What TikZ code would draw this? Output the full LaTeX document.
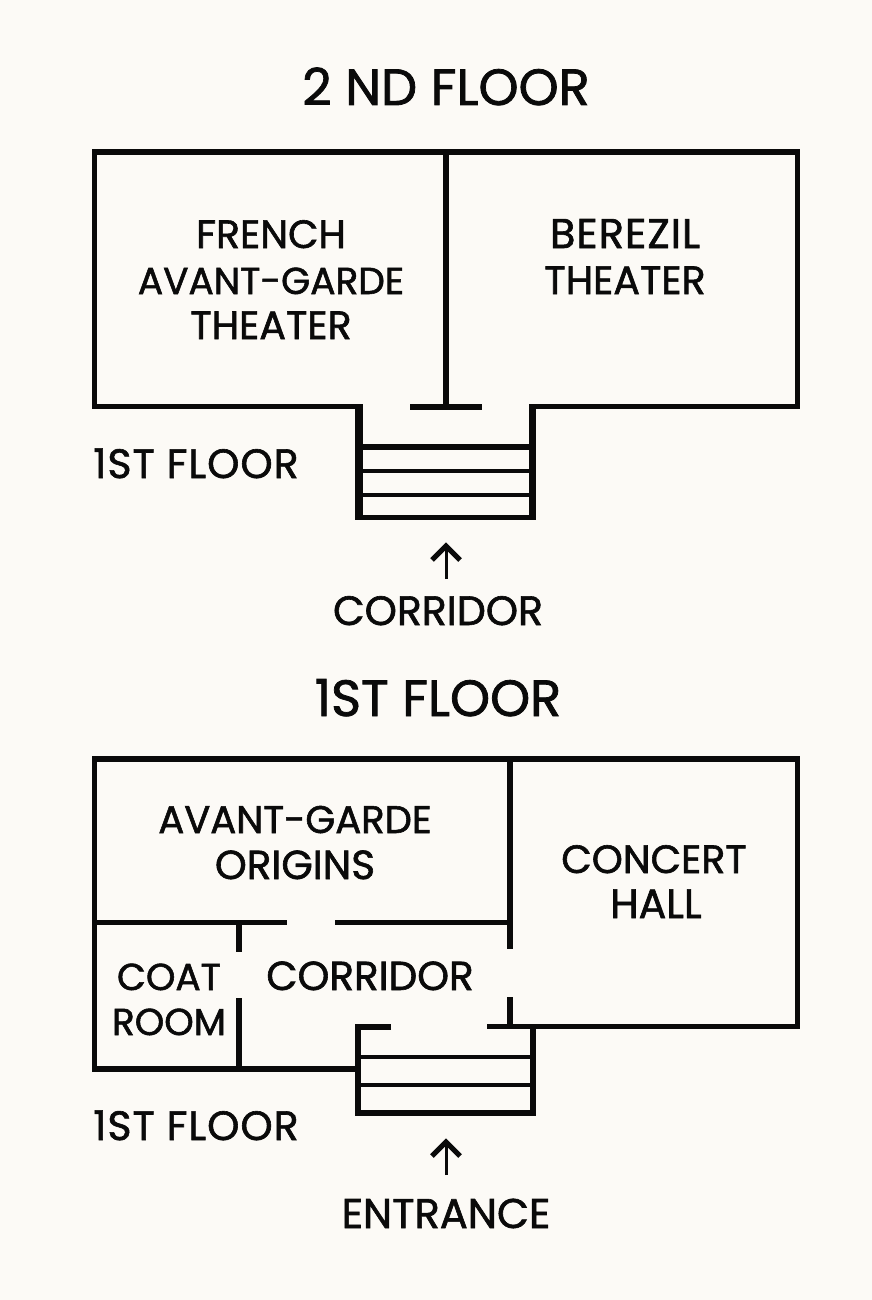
\documentclass[tikz,border=0pt]{standalone}
\usepackage{fontspec}
\newfontfamily\popm{Poppins}[RawFeature={embolden=1.5}]
\newfontfamily\popw{Poppins}[LetterSpace=2.5,RawFeature={embolden=1.5}]
\definecolor{paper}{HTML}{FCFAF6}
\definecolor{ink}{HTML}{0A0A0A}
\tikzset{
  wall/.style={draw=ink,line width=5.5pt,line cap=butt,line join=miter},
  thick wall/.style={draw=ink,line width=7.5pt},
  tread/.style={draw=ink,line width=4pt},
  stem/.style={draw=ink,line width=3pt},
  head/.style={draw=ink,line width=5pt,line cap=butt,line join=miter},
  title/.style={anchor=base,text=ink,font=\popm\fontsize{51}{51}\selectfont},
  label/.style={anchor=base,text=ink,align=center,font=\popm\fontsize{#1}{#1}\selectfont},
  wide label/.style={anchor=base,text=ink,align=center,font=\popw\fontsize{#1}{#1}\selectfont},
}
\begin{document}
\begin{tikzpicture}[x=1pt,y=-1pt]
\useasboundingbox[fill=paper] (0,0) rectangle (872,1300);
% 2nd floor
\node[title] (t2) at (446,105) {2 ND FLOOR};
\draw[wall] (358,406.5) -- (94.5,406.5) -- (94.5,152) -- (797.5,152) -- (797.5,406.5) -- (532,406.5);
\draw[wall] (446,152) -- (446,407);
\draw[wall] (410,407) -- (482,407);
\draw[thick wall] (359,404) -- (359,520);
\draw[thick wall] (532.5,404) -- (532.5,520);
\draw[wall] (355,517.5) -- (536,517.5);
\draw[wall] (359,447) -- (532,447);
\draw[tread] (359,471) -- (532,471);
\draw[tread] (359,495) -- (532,495);
\node[label=39.5] (french) at (271,248) {FRENCH};
\node[label=37.5] (avant) at (271,294) {AVANT-GARDE};
\node[label=39.5] (theater) at (271,339) {THEATER};
\node[wide label=41.5] (berezil) at (625,248) {BEREZIL};
\node[label=39.5] (bertheater) at (625,294) {THEATER};
\node[wide label=41] (f1a) at (196,478) {1ST FLOOR};
\node[label=41] (corr) at (438,625) {CORRIDOR};
\coordinate (a1t) at (446,546);
\coordinate (a1b) at (446,579);
\draw[stem] (a1b) -- (a1t);
\draw[head] (432,560) -- (446,546) -- (460,560);
% 1st floor
\node[title] (t1) at (438,716) {1ST FLOOR};
\draw[wall] (358,1069) -- (94.5,1069) -- (94.5,759) -- (797.5,759) -- (797.5,1026.5) -- (487,1026.5);
\draw[wall] (510,759) -- (510,949);
\draw[wall] (510,997) -- (510,1026);
\draw[wall] (94,922.5) -- (287,922.5);
\draw[wall] (335,922.5) -- (510,922.5);
\draw[wall] (239,922) -- (239,952);
\draw[wall] (239,998) -- (239,1069);
\draw[wall] (391,1027) -- (358,1027) -- (358,1113) -- (533,1113) -- (533,1027);
\draw[tread] (358,1057) -- (533,1057);
\draw[tread] (358,1085) -- (533,1085);
\node[label=38.5] (origin1) at (295,833) {AVANT-GARDE};
\node[label=40.5] (origin2) at (295,879) {ORIGINS};
\node[label=39.5] (concert) at (654,873) {CONCERT};
\node[label=41] (hall) at (656,918) {HALL};
\node[label=37.5] (coat) at (169,990) {COAT};
\node[label=37.5] (room) at (169,1035) {ROOM};
\node[label=40.5] (corr2) at (370,990) {CORRIDOR};
\node[wide label=41] (f1b) at (196,1140) {1ST FLOOR};
\node[label=41.5] (ent) at (446,1228) {ENTRANCE};
\coordinate (a2t) at (446,1142);
\coordinate (a2b) at (446,1175);
\draw[stem] (a2b) -- (a2t);
\draw[head] (432,1156) -- (446,1142) -- (460,1156);
\end{tikzpicture}
\end{document}
